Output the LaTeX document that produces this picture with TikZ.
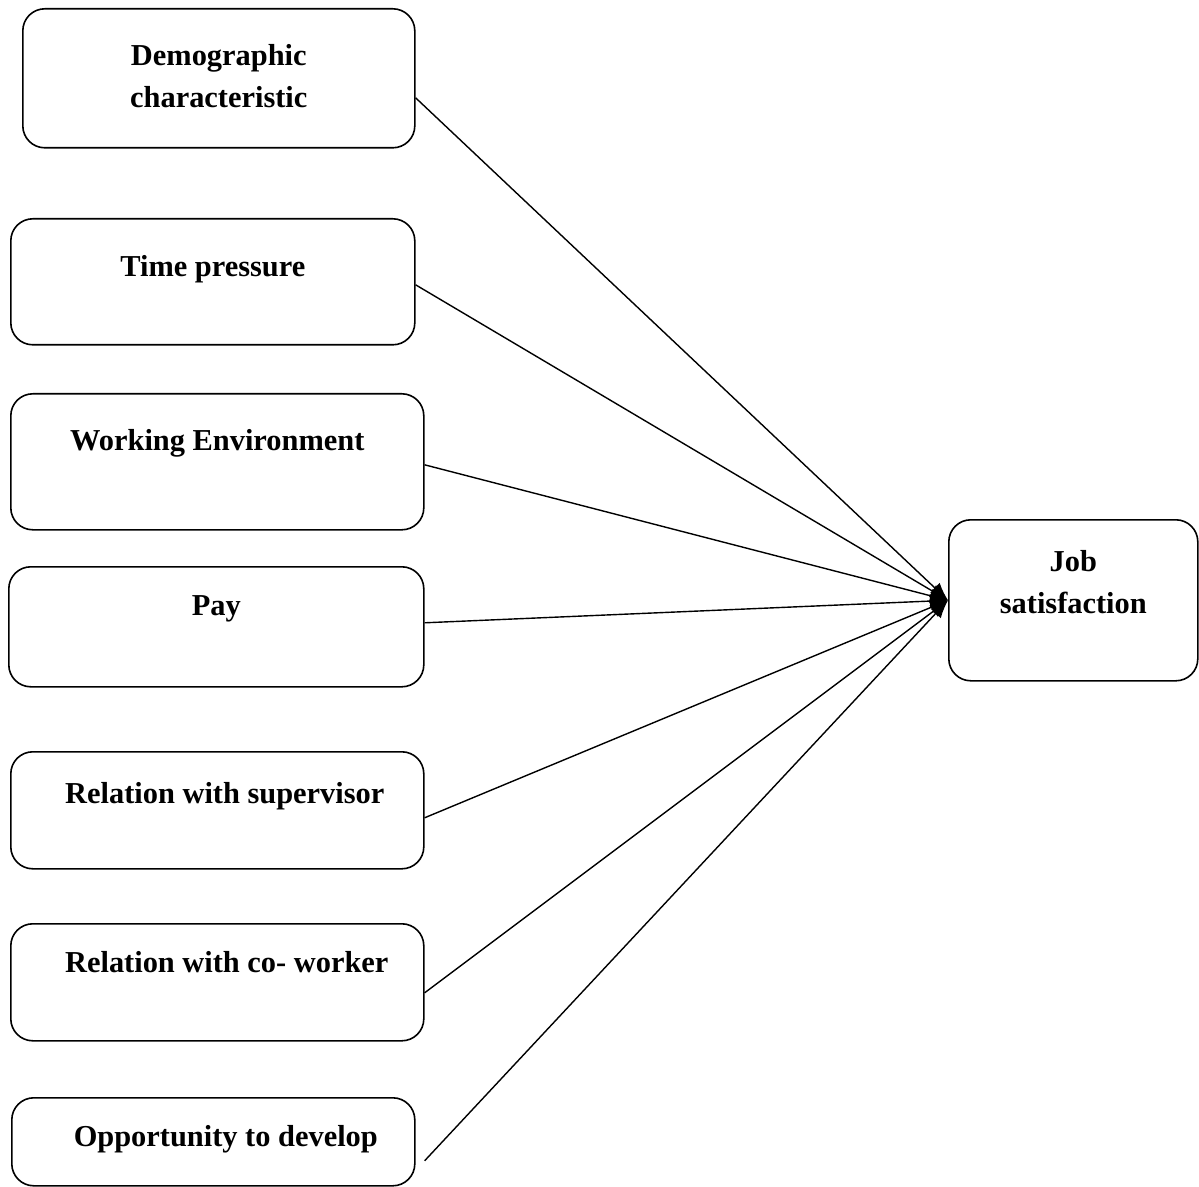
\documentclass[tikz,border=0pt]{standalone}
\usepackage{fontspec}
\setmainfont{Liberation Serif}
\usetikzlibrary{arrows.meta}
\begin{document}
\begin{tikzpicture}[
    x=0.5pt, y=-0.5pt,
    factor/.style={draw, line width=0.8pt, rounded corners=11pt, anchor=north west,
        align=center, inner xsep=0pt, inner ysep=0pt,
        font=\fontsize{15.2pt}{21pt}\selectfont\bfseries},
    link/.style={line width=0.7pt, -{Latex[length=9pt,width=7pt]}}
]
\useasboundingbox (0,0) rectangle (1199,1187);
\node[factor, minimum width=196pt, text height=49.5pt, text depth=20pt] (demo) at (22,8) {Demographic\\characteristic};
\node[factor, minimum width=202pt, text height=29pt, text depth=34pt] (time) at (10,218) {Time pressure};
\node[factor, minimum width=206.5pt, text height=28.5pt, text depth=39.5pt] (env) at (10,393) {Working Environment};
\node[factor, minimum width=207.5pt, text height=24.5pt, text depth=35.5pt] (pay) at (8,566) {Pay};
\node[factor, minimum width=206.5pt, text height=26pt, text depth=32.5pt] (sup) at (10,751) {\hspace*{7.5pt}Relation with supervisor};
\node[factor, minimum width=206.5pt, text height=24.5pt, text depth=34pt] (cowork) at (10,923) {\hspace*{9.5pt}Relation with co- worker};
\node[factor, minimum width=201.5pt, text height=24.5pt, text depth=19.5pt] (opp) at (11,1097) {\hspace*{12.5pt}Opportunity to develop};
\node[factor, minimum width=124.5pt, text height=47pt, text depth=33.5pt] (job) at (948,519) {Job\\satisfaction};
\draw[link] ([yshift=-9.75pt]demo.east) -- (job.west);
\draw[link] ([yshift=-1.5pt]time.east) -- (job.west);
\draw[link] ([yshift=-1.5pt]env.east) -- (job.west);
\draw[link] ([yshift=2pt]pay.east) -- (job.west);
\draw[link] ([yshift=-3.75pt]sup.east) -- (job.west);
\draw[link] ([yshift=-5.25pt]cowork.east) -- (job.west);
\draw[link] ([xshift=4.5pt,yshift=-9.5pt]opp.east) -- (job.west);
\end{tikzpicture}
\end{document}
